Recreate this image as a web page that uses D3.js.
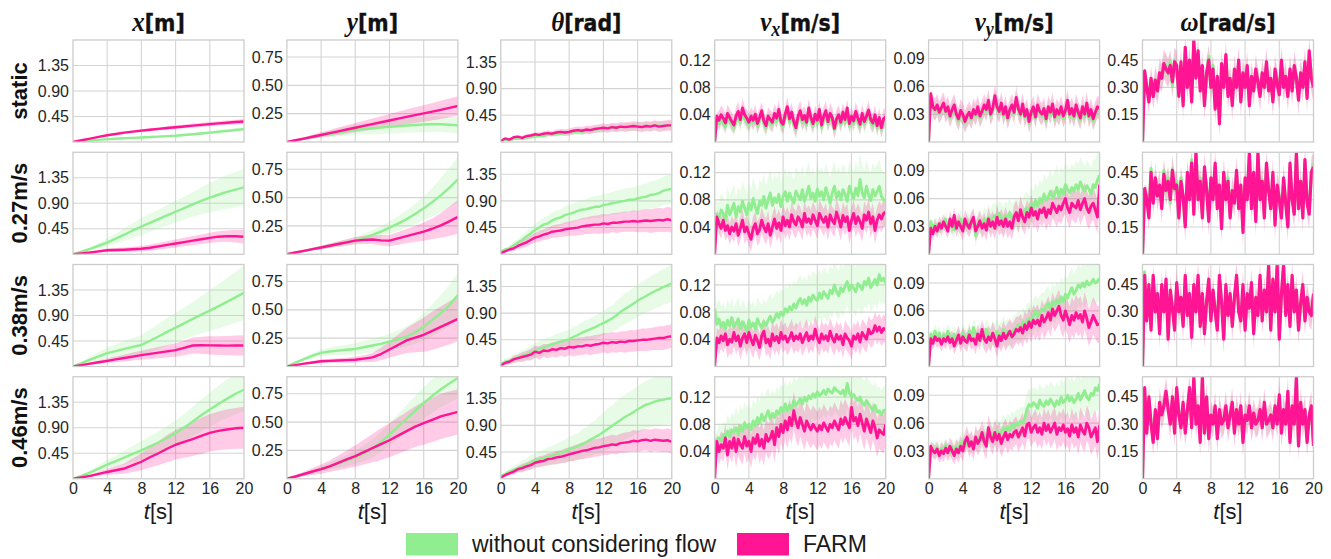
<!DOCTYPE html>
<html><head><meta charset="utf-8">
<script src="https://cdn.jsdelivr.net/npm/d3@7"></script>
<style>body{margin:0;background:#fff}</style>
</head><body><svg id="c" width="1331" height="559"></svg>
<script>
// ---------------- data ----------------
const rowLabels = ["static","0.27m/s","0.38m/s","0.46m/s"];
const colVars = ["x","y","th","vx","vy","w"];
const yDomains = [[0,1.8],[0,0.9],[0,1.72],[0,0.15],[0,0.11],[0,0.56]];
const yTicks = [[0.45,0.90,1.35],[0.25,0.50,0.75],[0.45,0.90,1.35],[0.04,0.08,0.12],[0.03,0.06,0.09],[0.15,0.30,0.45]];
const xTicks = [0,4,8,12,16,20];
const tMax = 20;
const seriesNames = ["without considering flow","FARM"];

// x [m], t = 0..20 step 1
const xG0=[0,.012,.025,.037,.05,.058,.065,.072,.08,.088,.095,.103,.11,.123,.137,.151,.165,.18,.196,.212,.228];
const xG0sd=[0,.003,.006,.008,.01,.012,.014,.015,.017,.018,.02,.021,.022,.023,.024,.025,.026,.027,.028,.029,.03];
const xP0=[0,.03,.06,.09,.12,.142,.165,.183,.2,.216,.231,.246,.26,.274,.288,.302,.315,.328,.34,.352,.362];
const xP0sd=[0,.004,.008,.011,.014,.017,.019,.021,.023,.025,.027,.029,.031,.033,.035,.037,.038,.039,.04,.041,.042];
const xG1=[0,.045,.095,.15,.206,.275,.345,.42,.49,.555,.62,.685,.75,.815,.88,.94,1.0,1.05,1.1,1.14,1.18];
const xG1sd=[0,.015,.03,.05,.07,.09,.11,.13,.15,.16,.17,.18,.19,.2,.22,.24,.26,.28,.3,.31,.32];
const xP1=[0,.015,.03,.05,.07,.075,.08,.088,.097,.115,.14,.165,.19,.215,.24,.265,.29,.31,.32,.318,.31];
const xP1sd=[0,.01,.02,.025,.03,.035,.04,.045,.05,.055,.06,.065,.07,.075,.08,.085,.09,.095,.1,.11,.12];
const xG2=[0,.06,.12,.18,.235,.27,.31,.345,.38,.455,.53,.61,.685,.76,.84,.915,.985,1.06,1.14,1.22,1.3];
const xG2sd=[0,.025,.05,.075,.1,.12,.14,.16,.18,.2,.22,.24,.26,.28,.3,.33,.36,.39,.42,.45,.48];
const xP2=[0,.025,.05,.075,.1,.125,.15,.175,.2,.222,.245,.268,.29,.33,.37,.375,.372,.37,.368,.37,.37];
const xP2sd=[0,.01,.02,.03,.04,.05,.06,.07,.08,.09,.1,.11,.12,.13,.14,.15,.16,.165,.17,.175,.18];
const xG3=[0,.05,.11,.18,.25,.31,.375,.44,.5,.57,.64,.72,.81,.9,1.01,1.12,1.22,1.32,1.41,1.5,1.57];
const xG3sd=[0,.02,.04,.06,.08,.1,.12,.14,.16,.18,.2,.21,.22,.24,.26,.28,.3,.32,.34,.36,.38];
const xP3=[0,.025,.05,.085,.12,.15,.18,.24,.3,.38,.45,.53,.6,.65,.7,.755,.81,.845,.87,.89,.9];
const xP3sd=[0,.01,.02,.035,.05,.07,.09,.12,.15,.18,.21,.24,.26,.28,.3,.32,.33,.34,.35,.36,.37];

// y [m]
const yG0=[0,.014,.029,.044,.058,.071,.084,.096,.108,.115,.121,.127,.133,.139,.145,.15,.155,.157,.156,.152,.147];
const yG0sd=[0,.006,.012,.018,.024,.03,.035,.04,.044,.048,.052,.055,.058,.061,.064,.066,.068,.069,.07,.071,.072];
const yP0=[0,.015,.03,.046,.062,.078,.094,.11,.126,.142,.158,.174,.19,.206,.222,.237,.252,.268,.284,.301,.318];
const yP0sd=[0,.006,.012,.018,.023,.028,.033,.037,.041,.045,.049,.053,.057,.061,.065,.069,.073,.077,.08,.083,.086];
const yG1=[0,.015,.03,.045,.06,.075,.09,.105,.12,.145,.17,.2,.235,.27,.31,.355,.405,.46,.52,.585,.66];
const yG1sd=[0,.004,.008,.012,.016,.02,.024,.028,.032,.037,.042,.048,.055,.065,.075,.09,.105,.125,.15,.175,.2];
const yP1=[0,.015,.03,.045,.06,.075,.09,.105,.12,.127,.13,.122,.12,.14,.16,.18,.2,.225,.255,.29,.33];
const yP1sd=[0,.004,.008,.012,.016,.02,.024,.028,.032,.036,.04,.045,.05,.056,.062,.07,.08,.09,.11,.13,.15];
const yG2=[0,.035,.065,.095,.12,.132,.14,.148,.155,.17,.185,.2,.22,.24,.265,.3,.35,.41,.47,.54,.63];
const yG2sd=[0,.008,.015,.022,.03,.035,.04,.045,.05,.055,.06,.065,.07,.08,.09,.1,.12,.14,.16,.18,.2];
const yP2=[0,.012,.025,.035,.046,.05,.053,.056,.06,.07,.08,.11,.15,.19,.23,.255,.28,.315,.35,.385,.42];
const yP2sd=[0,.004,.008,.012,.016,.018,.02,.022,.025,.03,.04,.055,.07,.09,.11,.13,.15,.17,.18,.19,.2];
const yG3=[0,.02,.04,.062,.085,.11,.135,.16,.19,.225,.265,.325,.39,.46,.53,.6,.67,.73,.79,.84,.89];
const yG3sd=[0,.006,.012,.018,.024,.03,.04,.05,.06,.07,.08,.09,.1,.11,.12,.13,.14,.15,.16,.17,.18];
const yP3=[0,.02,.042,.064,.085,.11,.14,.17,.2,.235,.27,.305,.34,.38,.42,.46,.49,.52,.55,.57,.59];
const yP3sd=[0,.01,.02,.03,.04,.05,.065,.08,.095,.11,.125,.14,.15,.16,.17,.18,.19,.195,.2,.2,.2];

// theta [rad], t = 0..20 step 0.5 ; sd at t = 0..20 step 1
const thG0=[.02,.04,.03,.05,.06,.05,.07,.08,.09,.1,.1,.12,.12,.13,.14,.15,.15,.17,.18,.17,.19,.2,.21,.22,.22,.23,.24,.24,.25,.26,.25,.26,.27,.26,.27,.26,.28,.27,.27,.28,.27];
const thG0sd=[0,.01,.02,.025,.03,.035,.04,.045,.05,.05,.055,.055,.06,.06,.065,.065,.07,.07,.07,.075,.075];
const thP0=[.02,.06,.04,.08,.09,.07,.1,.11,.13,.12,.14,.15,.14,.16,.17,.16,.17,.19,.2,.19,.21,.2,.22,.23,.24,.23,.25,.24,.26,.25,.26,.27,.26,.25,.27,.26,.28,.26,.27,.28,.28];
const thP0sd=[0,.015,.025,.03,.035,.04,.045,.05,.055,.06,.065,.07,.07,.075,.075,.08,.08,.085,.085,.09,.09];
const thG1=[.05,.08,.1,.15,.2,.24,.3,.35,.41,.45,.5,.52,.57,.6,.62,.66,.68,.7,.73,.75,.76,.78,.8,.8,.83,.84,.86,.87,.89,.9,.92,.92,.94,.96,.97,1.0,1.01,1.03,1.07,1.09,1.1];
const thG1sd=[0,.03,.06,.08,.1,.12,.13,.14,.15,.16,.17,.18,.19,.19,.2,.2,.21,.22,.23,.24,.25];
const thP1=[.02,.05,.08,.1,.14,.17,.2,.24,.28,.3,.33,.35,.38,.39,.4,.42,.43,.44,.45,.47,.48,.49,.5,.5,.52,.51,.53,.53,.54,.55,.55,.56,.55,.56,.57,.56,.57,.58,.57,.59,.57];
const thP1sd=[0,.03,.05,.07,.08,.09,.1,.11,.12,.13,.14,.15,.16,.16,.17,.17,.18,.19,.2,.2,.21];
const thG2=[.05,.08,.1,.13,.15,.18,.2,.24,.27,.3,.32,.35,.37,.4,.42,.44,.46,.5,.53,.57,.6,.63,.66,.7,.73,.77,.81,.86,.92,.97,1.01,1.06,1.11,1.15,1.19,1.23,1.27,1.3,1.34,1.37,1.4];
const thG2sd=[0,.05,.08,.1,.12,.13,.14,.15,.16,.17,.18,.19,.2,.22,.24,.26,.27,.28,.29,.3,.31];
const thP2=[.02,.06,.08,.12,.14,.16,.18,.2,.25,.23,.27,.26,.29,.28,.31,.3,.33,.32,.34,.34,.36,.35,.37,.38,.4,.39,.41,.4,.42,.41,.43,.43,.44,.45,.45,.46,.47,.48,.48,.5,.51];
const thP2sd=[0,.04,.06,.08,.1,.11,.12,.13,.14,.15,.15,.16,.16,.17,.17,.18,.18,.19,.19,.2,.2];
const thG3=[.05,.08,.12,.15,.18,.21,.24,.27,.31,.33,.35,.37,.39,.41,.44,.46,.5,.52,.55,.58,.62,.66,.7,.74,.79,.84,.89,.94,.99,1.04,1.08,1.12,1.17,1.21,1.25,1.27,1.3,1.32,1.33,1.35,1.36];
const thG3sd=[0,.04,.07,.1,.12,.14,.16,.18,.2,.22,.25,.28,.32,.35,.37,.38,.39,.4,.41,.42,.43];
const thP3=[.02,.06,.09,.12,.16,.18,.21,.23,.27,.29,.3,.33,.34,.36,.37,.39,.41,.43,.45,.47,.48,.5,.52,.53,.55,.56,.58,.57,.6,.61,.62,.64,.63,.65,.66,.64,.66,.65,.64,.65,.62];
const thP3sd=[0,.03,.05,.07,.08,.09,.1,.11,.12,.13,.14,.15,.15,.16,.16,.17,.18,.18,.19,.19,.2];

// v_x [m/s], t = 0..20 step 0.25 ; sd at t = 0..20 step 1
const vxG0=[0,.03,.027,.034,.029,.022,.035,.031,.026,.02,.032,.038,.028,.043,.034,.029,.025,.033,.028,.035,.023,.031,.04,.027,.02,.032,.028,.025,.037,.03,.042,.026,.022,.036,.046,.029,.039,.025,.018,.033,.04,.028,.034,.025,.045,.031,.023,.036,.027,.043,.021,.033,.041,.026,.037,.031,.018,.029,.035,.025,.039,.028,.045,.023,.033,.027,.04,.03,.022,.037,.026,.033,.042,.028,.024,.035,.02,.031,.018,.03,.032];
const vxG0sd=[.005,.012,.012,.013,.012,.012,.013,.012,.013,.012,.013,.014,.013,.012,.013,.012,.013,.012,.013,.012,.012];
const vxP0=[0,.038,.032,.04,.035,.028,.042,.036,.03,.025,.038,.045,.033,.05,.04,.035,.029,.038,.032,.041,.027,.036,.046,.031,.024,.038,.033,.029,.042,.035,.048,.03,.026,.041,.052,.034,.044,.03,.021,.038,.046,.033,.039,.029,.05,.036,.027,.041,.032,.048,.025,.038,.046,.03,.042,.036,.02,.034,.04,.029,.044,.033,.05,.027,.038,.031,.045,.035,.026,.042,.03,.038,.047,.033,.028,.04,.024,.036,.021,.034,.037];
const vxP0sd=[.005,.014,.013,.014,.013,.014,.013,.014,.013,.014,.015,.014,.013,.014,.015,.014,.013,.014,.013,.014,.014];
const vxG1=[.06,.058,.052,.065,.06,.05,.072,.058,.066,.075,.055,.07,.062,.078,.068,.058,.075,.065,.082,.07,.06,.078,.072,.085,.068,.08,.09,.072,.083,.076,.088,.07,.085,.092,.078,.09,.082,.075,.093,.086,.08,.095,.078,.088,.1,.082,.09,.078,.096,.085,.092,.08,.098,.087,.075,.09,.1,.083,.092,.08,.095,.088,.078,.1,.09,.082,.097,.086,.11,.09,.083,.1,.088,.079,.095,.086,.092,.1,.085,.08,.08];
const vxG1sd=[.02,.025,.028,.03,.03,.032,.033,.035,.035,.035,.036,.036,.037,.037,.038,.038,.038,.04,.04,.04,.04];
const vxP1=[0,.055,.045,.038,.05,.035,.042,.03,.04,.034,.045,.028,.038,.05,.033,.04,.03,.022,.038,.045,.03,.036,.05,.04,.033,.045,.028,.04,.052,.038,.046,.035,.055,.042,.05,.04,.058,.048,.043,.055,.05,.04,.06,.047,.052,.045,.058,.05,.042,.06,.053,.047,.055,.04,.058,.05,.045,.062,.052,.04,.057,.048,.055,.035,.05,.06,.045,.055,.048,.038,.058,.05,.062,.045,.055,.035,.05,.058,.052,.06,.062];
const vxP1sd=[.01,.015,.016,.017,.018,.018,.019,.019,.02,.02,.02,.02,.02,.02,.02,.02,.02,.02,.02,.02,.02];
const vxG2=[.085,.062,.07,.058,.065,.055,.068,.06,.072,.058,.063,.07,.055,.066,.06,.052,.068,.058,.064,.055,.07,.062,.057,.066,.06,.068,.074,.065,.07,.078,.072,.08,.075,.085,.08,.088,.083,.092,.086,.095,.1,.092,.098,.09,.102,.096,.105,.1,.097,.108,.1,.11,.105,.1,.112,.107,.12,.11,.104,.116,.11,.118,.125,.112,.12,.115,.11,.122,.118,.113,.125,.12,.13,.116,.122,.128,.12,.135,.126,.13,.122];
const vxG2sd=[.03,.03,.03,.032,.032,.033,.033,.034,.035,.035,.035,.035,.036,.036,.036,.036,.036,.036,.036,.036,.036];
const vxP2=[0,.042,.035,.045,.038,.048,.032,.04,.036,.05,.038,.045,.03,.042,.048,.035,.05,.04,.032,.046,.038,.028,.045,.052,.035,.04,.03,.048,.038,.044,.035,.05,.04,.045,.036,.042,.05,.038,.045,.04,.048,.035,.043,.05,.038,.045,.04,.055,.042,.035,.048,.04,.045,.038,.052,.042,.036,.047,.04,.045,.032,.048,.042,.038,.03,.045,.04,.048,.036,.05,.045,.04,.055,.048,.05,.06,.052,.058,.05,.056,.054];
const vxP2sd=[.015,.018,.02,.02,.02,.02,.02,.02,.02,.02,.02,.02,.02,.02,.02,.02,.02,.02,.02,.02,.02];
const vxG3=[.055,.058,.06,.056,.065,.06,.07,.062,.072,.068,.075,.065,.078,.07,.082,.075,.08,.072,.085,.078,.09,.082,.095,.085,.092,.1,.088,.096,.09,.1,.095,.105,.098,.11,.1,.108,.102,.115,.108,.112,.118,.11,.12,.114,.122,.118,.125,.12,.128,.122,.125,.13,.124,.132,.128,.126,.134,.13,.128,.125,.13,.122,.14,.126,.12,.124,.118,.115,.12,.112,.108,.115,.11,.105,.1,.108,.098,.1,.094,.1,.102];
const vxG3sd=[.01,.02,.025,.03,.03,.032,.034,.035,.035,.036,.036,.036,.036,.036,.036,.036,.036,.036,.036,.036,.036];
const vxP3=[0,.055,.04,.05,.045,.06,.035,.055,.045,.06,.04,.058,.05,.045,.062,.048,.055,.04,.06,.052,.065,.048,.058,.045,.065,.055,.06,.07,.05,.075,.062,.08,.068,.085,.072,.09,.078,.1,.085,.075,.09,.08,.07,.085,.078,.072,.08,.075,.07,.078,.072,.082,.076,.07,.08,.075,.085,.078,.072,.088,.08,.09,.082,.075,.105,.085,.09,.078,.095,.082,.07,.088,.078,.068,.085,.075,.06,.072,.068,.065,.08];
const vxP3sd=[.01,.02,.022,.024,.025,.026,.026,.027,.027,.028,.028,.028,.028,.028,.028,.028,.028,.028,.028,.028,.028];

// v_y [m/s]
const vyG0=[0,.05,.036,.033,.038,.03,.035,.04,.031,.036,.026,.033,.038,.028,.022,.031,.028,.02,.026,.03,.024,.033,.028,.036,.026,.031,.037,.033,.042,.028,.034,.047,.036,.031,.04,.028,.035,.024,.033,.037,.03,.045,.034,.028,.038,.026,.033,.02,.029,.035,.025,.037,.031,.028,.034,.022,.035,.029,.038,.024,.032,.027,.035,.025,.031,.042,.027,.033,.025,.037,.029,.023,.035,.027,.039,.025,.032,.022,.029,.035,.033];
const vyG0sd=[.005,.01,.01,.01,.01,.01,.01,.01,.01,.01,.01,.01,.01,.01,.01,.01,.01,.01,.01,.01,.01];
const vyP0=[0,.052,.038,.035,.04,.032,.037,.042,.033,.038,.028,.035,.04,.03,.025,.034,.03,.022,.028,.032,.026,.035,.03,.038,.028,.033,.04,.035,.045,.03,.036,.05,.038,.033,.042,.03,.038,.026,.035,.04,.032,.048,.036,.03,.041,.028,.035,.022,.032,.038,.027,.04,.033,.03,.036,.025,.038,.032,.041,.027,.035,.03,.038,.028,.034,.045,.03,.036,.028,.04,.032,.026,.038,.03,.042,.028,.035,.025,.032,.038,.036];
const vyP0sd=[.005,.012,.012,.012,.012,.012,.012,.012,.012,.012,.012,.012,.012,.012,.012,.012,.012,.012,.012,.012,.012];
const vyG1=[0,.035,.028,.032,.03,.025,.034,.03,.038,.028,.033,.03,.026,.035,.03,.038,.033,.028,.036,.032,.035,.038,.02,.033,.036,.03,.038,.034,.04,.036,.04,.042,.038,.044,.04,.036,.042,.04,.045,.038,.042,.044,.04,.046,.042,.048,.05,.045,.055,.05,.058,.052,.06,.055,.065,.058,.062,.068,.06,.065,.072,.062,.07,.065,.075,.07,.066,.072,.068,.075,.07,.078,.072,.068,.074,.07,.065,.075,.072,.08,.085];
const vyG1sd=[.005,.008,.008,.009,.01,.011,.012,.013,.014,.015,.016,.017,.018,.02,.022,.024,.025,.026,.027,.028,.03];
const vyP1=[0,.028,.022,.03,.025,.033,.028,.035,.03,.025,.038,.03,.042,.028,.035,.03,.025,.038,.032,.028,.035,.04,.025,.03,.036,.028,.033,.026,.038,.03,.035,.028,.04,.032,.036,.03,.038,.03,.035,.028,.04,.045,.036,.048,.04,.035,.045,.04,.05,.042,.046,.038,.048,.045,.05,.04,.048,.044,.055,.05,.045,.052,.048,.055,.06,.05,.045,.055,.052,.05,.058,.048,.055,.06,.05,.045,.052,.055,.048,.04,.075];
const vyP1sd=[.005,.008,.008,.009,.01,.01,.011,.012,.012,.013,.013,.014,.014,.015,.015,.016,.016,.017,.017,.018,.018];
const vyG2=[0,.035,.03,.038,.032,.036,.028,.034,.03,.038,.033,.027,.035,.03,.034,.028,.036,.032,.03,.038,.03,.042,.035,.028,.037,.032,.03,.04,.035,.03,.036,.033,.038,.032,.035,.04,.034,.038,.032,.036,.04,.042,.045,.04,.048,.044,.05,.052,.048,.055,.06,.054,.058,.062,.06,.065,.068,.062,.07,.066,.072,.068,.075,.07,.078,.074,.08,.085,.078,.082,.088,.085,.09,.086,.092,.088,.09,.094,.09,.092,.095];
const vyG2sd=[.005,.008,.008,.009,.01,.01,.011,.012,.013,.014,.015,.016,.017,.018,.019,.02,.021,.022,.022,.023,.023];
const vyP2=[0,.03,.025,.032,.028,.03,.024,.03,.027,.032,.026,.03,.022,.028,.034,.025,.032,.028,.026,.034,.028,.03,.024,.035,.028,.04,.03,.026,.032,.028,.036,.03,.022,.033,.028,.036,.03,.034,.038,.032,.035,.04,.038,.042,.036,.045,.04,.048,.042,.05,.046,.05,.044,.055,.048,.052,.058,.05,.062,.055,.06,.065,.055,.05,.06,.053,.045,.055,.05,.058,.052,.056,.048,.06,.052,.042,.048,.055,.05,.045,.046];
const vyP2sd=[.005,.008,.008,.009,.01,.01,.011,.012,.012,.013,.014,.015,.016,.017,.018,.018,.019,.02,.02,.02,.02];
const vyG3=[0,.035,.032,.03,.034,.028,.033,.03,.036,.03,.028,.034,.03,.035,.032,.038,.04,.035,.042,.038,.04,.036,.043,.04,.045,.042,.048,.044,.046,.05,.045,.048,.052,.048,.05,.055,.05,.056,.052,.058,.055,.06,.058,.062,.06,.065,.075,.08,.078,.082,.08,.076,.085,.08,.078,.084,.08,.086,.082,.078,.084,.08,.088,.082,.085,.09,.084,.088,.082,.086,.092,.085,.09,.095,.088,.085,.092,.09,.098,.095,.102];
const vyG3sd=[.005,.008,.008,.009,.01,.01,.011,.012,.013,.014,.015,.016,.017,.018,.019,.02,.021,.022,.022,.023,.023];
const vyP3=[0,.035,.03,.028,.032,.025,.03,.027,.033,.028,.035,.03,.025,.032,.028,.035,.03,.04,.045,.035,.04,.032,.045,.038,.042,.05,.04,.035,.055,.045,.04,.05,.042,.048,.038,.045,.05,.042,.048,.045,.05,.052,.045,.05,.055,.046,.058,.06,.05,.055,.058,.05,.055,.048,.06,.052,.058,.05,.055,.06,.048,.055,.052,.058,.05,.054,.046,.058,.05,.055,.045,.058,.052,.048,.06,.055,.045,.05,.055,.04,.058];
const vyP3sd=[.005,.008,.009,.01,.011,.012,.013,.014,.014,.015,.015,.016,.016,.017,.017,.018,.018,.018,.019,.019,.02];

// omega [rad/s]
const wG0=[0,.37,.31,.24,.33,.27,.33,.3,.36,.36,.41,.42,.37,.44,.31,.45,.4,.27,.42,.22,.5,.32,.43,.24,.53,.37,.48,.3,.4,.22,.37,.47,.29,.42,.2,.35,.13,.41,.32,.46,.27,.34,.22,.38,.32,.43,.24,.37,.32,.4,.22,.35,.3,.38,.35,.27,.37,.32,.42,.3,.34,.24,.38,.34,.28,.43,.32,.35,.27,.38,.3,.4,.36,.25,.37,.32,.42,.26,.48,.36,.31];
const wP0=[0,.39,.3,.22,.35,.25,.34,.28,.38,.35,.43,.4,.38,.42,.33,.44,.42,.25,.44,.2,.52,.3,.45,.22,.56,.35,.5,.28,.42,.2,.38,.45,.3,.4,.18,.36,.1,.43,.3,.48,.25,.35,.2,.4,.3,.45,.22,.38,.3,.42,.2,.36,.28,.4,.33,.25,.38,.3,.44,.28,.35,.22,.4,.32,.26,.45,.3,.36,.25,.4,.28,.42,.35,.23,.38,.3,.44,.24,.5,.35,.3];
const wG1=[0,.34,.32,.22,.47,.3,.4,.34,.37,.27,.46,.34,.42,.28,.47,.35,.4,.22,.42,.3,.17,.43,.32,.52,.24,.54,.31,.42,.22,.46,.37,.2,.4,.32,.48,.27,.36,.16,.44,.32,.42,.22,.34,.3,.44,.27,.36,.15,.4,.32,.54,.27,.43,.2,.54,.31,.41,.22,.48,.36,.27,.43,.18,.37,.32,.22,.4,.3,.17,.48,.32,.24,.54,.27,.39,.22,.5,.3,.24,.44,.5];
const wP1=[0,.36,.3,.2,.45,.28,.42,.32,.38,.25,.44,.35,.4,.3,.46,.36,.38,.2,.4,.32,.15,.45,.3,.5,.22,.56,.3,.4,.2,.48,.35,.18,.42,.3,.5,.25,.38,.14,.45,.3,.4,.2,.35,.28,.46,.25,.38,.12,.42,.3,.56,.25,.45,.18,.56,.3,.4,.2,.5,.35,.25,.45,.16,.38,.3,.2,.42,.28,.15,.5,.3,.22,.56,.25,.4,.2,.52,.28,.22,.45,.48];
const wG2=[0,.52,.27,.43,.22,.48,.32,.38,.2,.43,.32,.46,.17,.4,.34,.22,.44,.32,.36,.24,.48,.3,.38,.18,.44,.32,.48,.24,.38,.2,.35,.46,.27,.4,.32,.22,.48,.36,.17,.43,.3,.38,.24,.36,.48,.32,.27,.43,.22,.38,.34,.44,.2,.37,.3,.48,.27,.4,.32,.54,.22,.46,.32,.54,.17,.38,.54,.3,.43,.24,.48,.32,.4,.22,.34,.43,.27,.37,.32,.3,.38];
const wP2=[0,.5,.25,.45,.2,.5,.3,.4,.18,.45,.3,.48,.15,.42,.32,.2,.46,.3,.38,.22,.5,.28,.4,.16,.45,.3,.5,.22,.4,.18,.36,.48,.25,.42,.3,.2,.5,.35,.15,.45,.28,.4,.22,.38,.5,.3,.25,.45,.2,.4,.32,.46,.18,.38,.28,.5,.25,.42,.3,.56,.2,.48,.3,.56,.15,.4,.56,.28,.45,.22,.5,.3,.42,.2,.35,.45,.25,.38,.3,.28,.4];
const wG3=[0,.48,.27,.43,.32,.22,.36,.24,.4,.37,.39,.46,.4,.32,.43,.27,.48,.36,.3,.4,.27,.37,.48,.3,.53,.32,.38,.22,.53,.27,.43,.24,.34,.32,.38,.24,.37,.32,.31,.38,.3,.34,.4,.27,.37,.32,.38,.22,.34,.33,.38,.3,.35,.31,.31,.37,.3,.4,.32,.31,.34,.3,.38,.32,.44,.27,.37,.32,.46,.22,.38,.32,.53,.2,.4,.32,.37,.22,.34,.38,.2];
const wP3=[0,.5,.25,.45,.3,.2,.38,.22,.42,.35,.4,.48,.38,.3,.45,.25,.5,.35,.28,.42,.25,.38,.5,.28,.56,.3,.4,.2,.56,.25,.45,.22,.35,.3,.4,.22,.38,.3,.32,.4,.28,.35,.42,.25,.38,.3,.4,.2,.35,.32,.4,.28,.36,.3,.32,.38,.28,.42,.3,.32,.35,.28,.4,.3,.46,.25,.38,.3,.48,.2,.4,.3,.56,.18,.42,.3,.38,.2,.35,.4,.18];
const wGsd=[.02,.06,.07,.07,.07,.07,.07,.07,.07,.07,.07,.07,.07,.07,.07,.07,.07,.07,.07,.07,.07];
const wPsd=[.02,.07,.08,.08,.08,.08,.08,.08,.08,.08,.08,.08,.08,.08,.08,.08,.08,.08,.08,.08,.08];

// panel table built from the named arrays: [green mean, green sd, pink mean, pink sd]
const table = {
  x: [[xG0,xG0sd,xP0,xP0sd],[xG1,xG1sd,xP1,xP1sd],[xG2,xG2sd,xP2,xP2sd],[xG3,xG3sd,xP3,xP3sd]],
  y: [[yG0,yG0sd,yP0,yP0sd],[yG1,yG1sd,yP1,yP1sd],[yG2,yG2sd,yP2,yP2sd],[yG3,yG3sd,yP3,yP3sd]],
  th:[[thG0,thG0sd,thP0,thP0sd],[thG1,thG1sd,thP1,thP1sd],[thG2,thG2sd,thP2,thP2sd],[thG3,thG3sd,thP3,thP3sd]],
  vx:[[vxG0,vxG0sd,vxP0,vxP0sd],[vxG1,vxG1sd,vxP1,vxP1sd],[vxG2,vxG2sd,vxP2,vxP2sd],[vxG3,vxG3sd,vxP3,vxP3sd]],
  vy:[[vyG0,vyG0sd,vyP0,vyP0sd],[vyG1,vyG1sd,vyP1,vyP1sd],[vyG2,vyG2sd,vyP2,vyP2sd],[vyG3,vyG3sd,vyP3,vyP3sd]],
  w: [[wG0,wGsd,wP0,wPsd],[wG1,wGsd,wP1,wPsd],[wG2,wGsd,wP2,wPsd],[wG3,wGsd,wP3,wPsd]]
};

// ---------------- drawing ----------------
const GREEN = "#90EE90", PINK = "#FF1493";
const svg = d3.select("#c");
svg.append("rect").attr("width",1331).attr("height",559).attr("fill","#fff");

const L0 = 73, CW = 171, CS = 213.9, T0 = 40, RH = 102, RS = 112.25;
const SANS = "'Liberation Sans', Arial, sans-serif";
const DSANS = "'DejaVu Sans', sans-serif";
const SERIF = "'Liberation Serif', 'Times New Roman', serif";
const defs = svg.append("defs");

function toPts(mean, sd){
  const n = mean.length;
  return mean.map((v,i)=>{
    const t = i*tMax/(n-1);
    const s = sd[Math.min(sd.length-1, Math.round(t*(sd.length-1)/tMax))];
    return {t, v, lo: v - s, hi: v + s};
  });
}

colVars.forEach((vn, c) => {
  rowLabels.forEach((rl, r) => {
    const x0 = L0 + c*CS, y0 = T0 + r*RS;
    const xs = d3.scaleLinear().domain([0,tMax]).range([x0, x0+CW]);
    const ys = d3.scaleLinear().domain(yDomains[c]).range([y0+RH, y0]);
    const g = svg.append("g");
    g.selectAll(".vg").data(xTicks.slice(1,-1)).join("line")
      .attr("x1",d=>xs(d)).attr("x2",d=>xs(d)).attr("y1",y0).attr("y2",y0+RH)
      .attr("stroke","#d4d4d4").attr("stroke-width",1.1);
    g.selectAll(".hg").data(yTicks[c]).join("line")
      .attr("x1",x0).attr("x2",x0+CW).attr("y1",d=>ys(d)).attr("y2",d=>ys(d))
      .attr("stroke","#d4d4d4").attr("stroke-width",1.1);
    const cid = `clip${c}_${r}`;
    defs.append("clipPath").attr("id",cid).append("rect")
      .attr("x",x0).attr("y",y0).attr("width",CW).attr("height",RH);
    const pg = g.append("g").attr("clip-path",`url(#${cid})`);
    const [gm, gsd, pm, psd] = table[vn][r];
    const gp = toPts(gm, gsd), pp = toPts(pm, psd);
    const area = d3.area().x(d=>xs(d.t)).y0(d=>ys(d.lo)).y1(d=>ys(d.hi));
    const line = d3.line().x(d=>xs(d.t)).y(d=>ys(d.v));
    const lw = c < 3 ? 2.4 : (c === 5 ? 3.2 : 2.9);
    pg.append("path").attr("d",area(gp)).attr("fill",GREEN).attr("fill-opacity",0.22);
    pg.append("path").attr("d",area(pp)).attr("fill",PINK).attr("fill-opacity",0.22);
    pg.append("path").attr("d",line(gp)).attr("fill","none").attr("stroke",GREEN)
      .attr("stroke-width",lw).attr("stroke-linejoin","round");
    pg.append("path").attr("d",line(pp)).attr("fill","none").attr("stroke",PINK)
      .attr("stroke-width",lw).attr("stroke-linejoin","round");
    g.append("rect").attr("x",x0).attr("y",y0).attr("width",CW).attr("height",RH)
      .attr("fill","none").attr("stroke","#cccccc").attr("stroke-width",1.3);
    const ya = g.append("g").attr("transform",`translate(${x0},0)`)
      .call(d3.axisLeft(ys).tickValues(yTicks[c]).tickSize(0).tickPadding(4).tickFormat(d3.format(".2f")));
    ya.select(".domain").remove();
    ya.selectAll("text").attr("font-family",SANS).attr("font-size",16).attr("fill","#262626");
    if (r === rowLabels.length-1) {
      const xa = g.append("g").attr("transform",`translate(0,${y0+RH})`)
        .call(d3.axisBottom(xs).tickValues(xTicks).tickSize(0).tickPadding(3.5).tickFormat(d3.format("d")));
      xa.select(".domain").remove();
      xa.selectAll("text").attr("font-family",SANS).attr("font-size",16).attr("fill","#262626");
      const tl = g.append("text").attr("x",x0+CW/2).attr("y",y0+RH+40.5)
        .attr("text-anchor","middle").attr("font-family",SANS).attr("font-size",22).attr("fill","#1a1a1a");
      tl.append("tspan").attr("font-style","italic").text("t");
      tl.append("tspan").text("[s]");
    }
  });
});

// column titles
const titleParts = [
  [["x","m"],["[m]","s"]],
  [["y","m"],["[m]","s"]],
  [["θ","m"],["[rad]","s"]],
  [["v","m"],["x","sub"],["[m/s]","s"]],
  [["v","m"],["y","sub"],["[m/s]","s"]],
  [["ω","m"],["[rad/s]","s"]]
];
titleParts.forEach((parts, c) => {
  const t = svg.append("text")
    .attr("transform",`translate(${L0 + c*CS + CW/2},31) scale(1,1.12)`)
    .attr("text-anchor","middle").attr("fill","#111");
  let shifted = false;
  parts.forEach(([txt, kind]) => {
    const s = t.append("tspan").text(txt);
    if (kind === "m") s.attr("font-family",SERIF).attr("font-style","italic").attr("font-weight","bold").attr("font-size",25);
    else if (kind === "sub") { s.attr("font-family",SERIF).attr("font-style","italic").attr("font-weight","bold").attr("font-size",18).attr("dy",4.5); shifted = true; }
    else { s.attr("font-family",DSANS).attr("font-weight","bold").attr("font-size",20.5).attr("stroke","#111").attr("stroke-width",0.35); if (shifted) s.attr("dy",-4.5); }
  });
});

// row labels
rowLabels.forEach((rl, r) => {
  const cy = T0 + r*RS + RH/2;
  svg.append("text").attr("transform",`translate(26.5,${cy}) rotate(-90)`)
    .attr("text-anchor","middle").attr("font-family",SANS).attr("font-weight","bold")
    .attr("font-size",22).attr("fill","#111").text(rl);
});

// legend
const legX = [406, 737];
[GREEN, PINK].forEach((col, i) => {
  svg.append("rect").attr("x",legX[i]).attr("y",533).attr("width",52).attr("height",22.5).attr("fill",col);
  svg.append("text").attr("x",legX[i]+66).attr("y",552).attr("font-family",SANS)
    .attr("font-size",23).attr("fill","#1a1a1a").text(seriesNames[i]);
});
</script></body></html>
